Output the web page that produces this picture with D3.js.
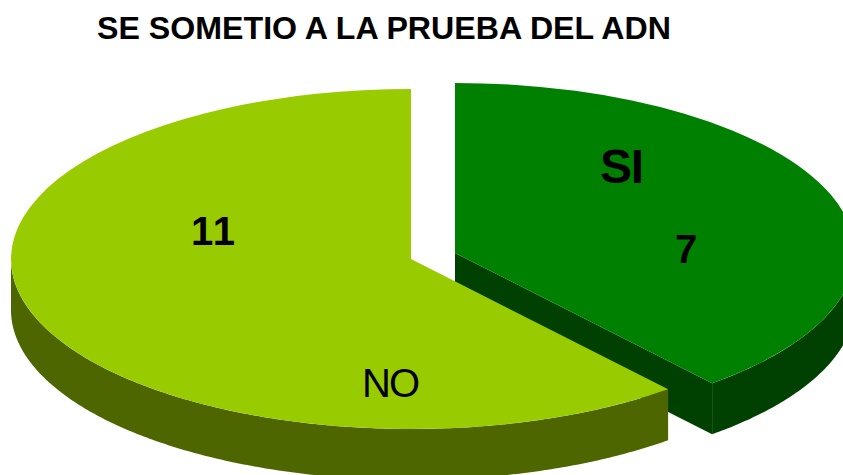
<!DOCTYPE html>
<html>
  <head>
    <meta charset="utf-8" />
    <title>SE SOMETIO A LA PRUEBA DEL ADN</title>
    <script src="https://d3js.org/d3.v7.min.js"></script>
    <style>
      html, body { margin: 0; padding: 0; background: #fff; overflow: hidden; }
      svg { display: block; }
      text { font-family: "Liberation Sans", Arial, sans-serif; fill: #000; }
    </style>
  </head>
  <body>
    <div id="chart"></div>
    <script>
      var title = "SE SOMETIO A LA PRUEBA DEL ADN";
      var categories = ["SI", "NO"];
      var values = [7, 11];
      var topColors = ["#008000", "#99cc00"];
      var wallColors = ["#004000", "#4d6600"];

      var width = 843, height = 475;
      var rx = 400, ry = 170, depth = 51;
      // exploded slices, each has its own apex
      var apexes = [[455, 253], [411, 259]];

      var svg = d3.select("#chart").append("svg")
        .attr("width", width).attr("height", height);

      var pie = d3.pie().sort(null)(values);
      var arc = d3.arc().innerRadius(0).outerRadius(rx);

      // point on the rim, a is clockwise from 12 o'clock
      function rim(a, off) {
        return [rx * Math.sin(a), -ry * Math.cos(a) + (off || 0)];
      }

      var line = d3.line();

      pie.forEach(function (p, i) {
        var g = svg.append("g")
          .attr("transform", "translate(" + apexes[i][0] + "," + apexes[i][1] + ")");

        // outer wall, only the front half of the rim can be seen
        var from = Math.max(p.startAngle, Math.PI / 2);
        var to = Math.min(p.endAngle, Math.PI * 1.5);
        var steps = d3.range(from, to, 0.01).concat([to]);
        var wall = steps.map(function (a) { return rim(a); })
          .concat(steps.slice().reverse().map(function (a) { return rim(a, depth); }));
        g.append("path").attr("d", line(wall) + "Z").attr("fill", wallColors[i]);

        // cut side of the SI slice
        if (i == 0) {
          var tip = rim(p.endAngle);
          g.append("path")
            .attr("d", line([[0, 0], tip, [tip[0], tip[1] + depth], [0, depth]]) + "Z")
            .attr("fill", wallColors[i]);
        }

        g.append("path")
          .attr("transform", "scale(1," + ry / rx + ")")
          .attr("d", arc(p))
          .attr("fill", topColors[i]);
      });

      svg.append("text").attr("x", 97).attr("y", 39)
        .attr("font-size", 31.5).attr("font-weight", "bold")
        .attr("textLength", 574).attr("lengthAdjust", "spacingAndGlyphs")
        .text(title);

      // category and value labels
      svg.append("text").attr("x", 600).attr("y", 183)
        .attr("font-size", 48).attr("font-weight", "bold")
        .attr("textLength", 44).attr("lengthAdjust", "spacing")
        .text(categories[0]);
      svg.append("text").attr("x", 675).attr("y", 263)
        .attr("font-size", 40).attr("font-weight", "bold")
        .text(values[0]);
      svg.append("text").attr("x", 191).attr("y", 245)
        .attr("font-size", 40).attr("font-weight", "bold")
        .attr("textLength", 44).attr("lengthAdjust", "spacing")
        .text(values[1]);
      svg.append("text").attr("x", 362).attr("y", 397)
        .attr("font-size", 40)
        .attr("textLength", 58).attr("lengthAdjust", "spacing")
        .text(categories[1]);
    </script>
  </body>
</html>
